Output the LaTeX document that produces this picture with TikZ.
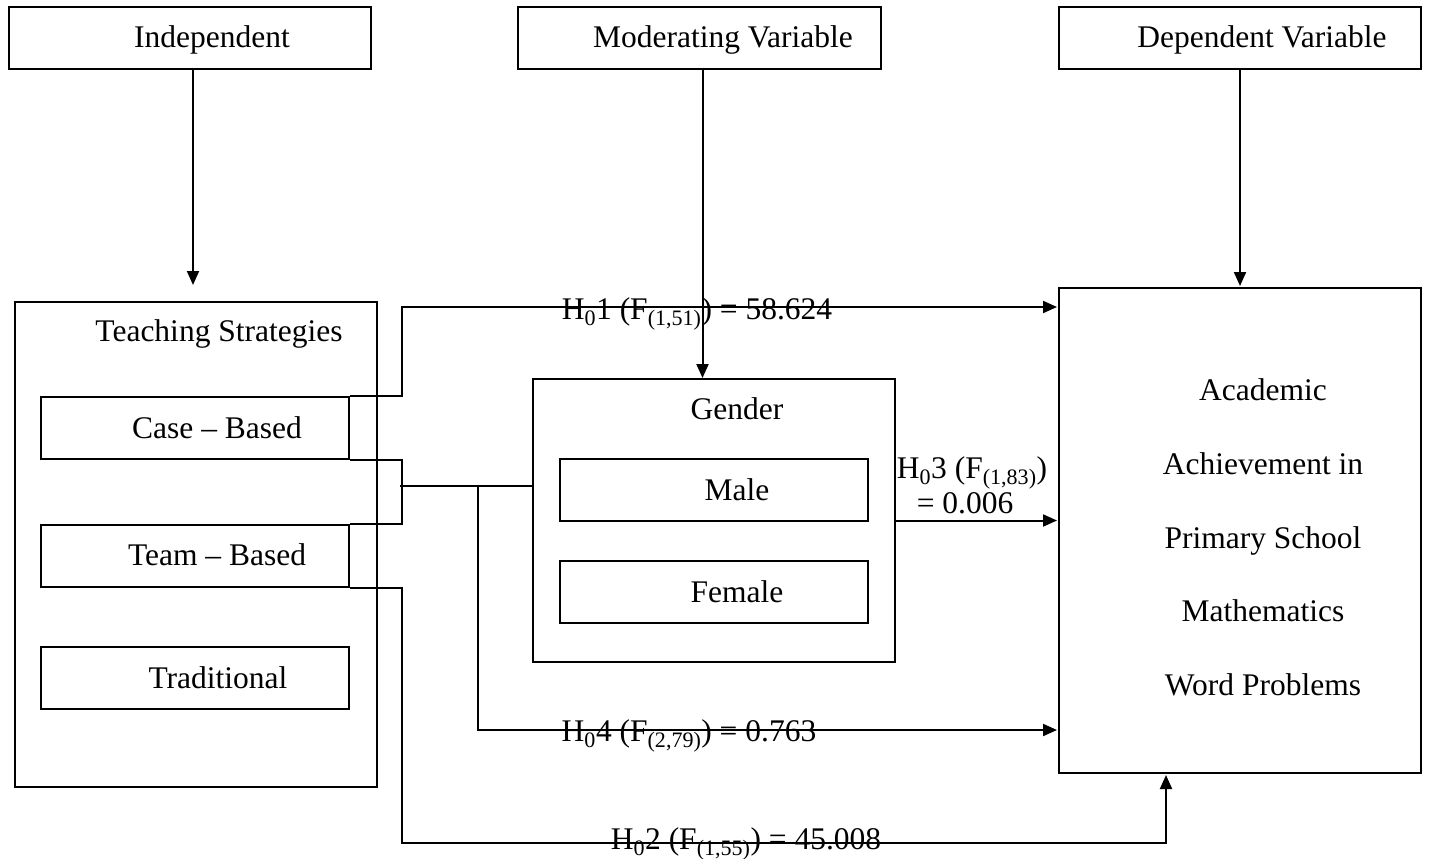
\documentclass[tikz,border=0pt]{standalone}
\usepackage{fontspec}
\setmainfont{Liberation Serif}
\usetikzlibrary{arrows.meta,calc}
\begin{document}
\begin{tikzpicture}[x=1pt,y=-1pt,
  box/.style={draw,line width=2pt,inner sep=0pt,anchor=north west},
  txt/.style={inner sep=0pt,anchor=base,font=\fontsize{31.5}{37}\selectfont},
  lab/.style={inner sep=0pt,anchor=base,font=\fontsize{31.5}{37}\selectfont},
  ln/.style={line width=2pt},
  arr/.style={line width=2pt,-{Triangle[length=14pt,width=12pt]}}]
\useasboundingbox (0,0) rectangle (1429,859);
% top boxes
\node[box,minimum width=362pt,minimum height=62pt] (ind) at (8,6) {};
\node[txt] (indt) at (212,48) {Independent};
\node[box,minimum width=363pt,minimum height=62pt] (mod) at (517,6) {};
\node[txt] (modt) at (723,48) {Moderating Variable};
\node[box,minimum width=362pt,minimum height=62pt] (dep) at (1058,6) {};
\node[txt] (dept) at (1262,48) {Dependent Variable};
% teaching strategies
\node[box,minimum width=362pt,minimum height=485pt] (ts) at (14,301) {};
\node[txt] (tst) at (219,341) {Teaching Strategies};
\node[box,minimum width=308pt,minimum height=62pt] (cb) at (40,396) {};
\node[txt] (cbt) at (217,438) {Case -- Based};
\node[box,minimum width=308pt,minimum height=62pt] (tb) at (40,524) {};
\node[txt] (tbt) at (217,565) {Team -- Based};
\node[box,minimum width=308pt,minimum height=62pt] (tr) at (40,646) {};
\node[txt] (trt) at (218,688) {Traditional};
% gender
\node[box,minimum width=362pt,minimum height=283pt] (gen) at (532,378) {};
\node[txt] (gent) at (737,419) {Gender};
\node[box,minimum width=308pt,minimum height=62pt] (ml) at (559,458) {};
\node[txt] (mlt) at (737,500) {Male};
\node[box,minimum width=308pt,minimum height=62pt] (fm) at (559,560) {};
\node[txt] (fmt) at (737,602) {Female};
% academic achievement
\node[box,minimum width=362pt,minimum height=485pt] (ach) at (1058,287) {};
\node[txt] (a1) at (1263,400) {Academic};
\node[txt] (a2) at (1263,474) {Achievement in};
\node[txt] (a3) at (1263,548) {Primary School};
\node[txt] (a4) at (1263,621) {Mathematics};
\node[txt] (a5) at (1263,695) {Word Problems};
% vertical arrows from top boxes
\draw[arr,shorten >=16pt] ([xshift=3pt]ind.south) -- ([xshift=3pt]ind.south |- ts.north);
\draw[arr] ([xshift=3pt]mod.south) -- ([xshift=3pt]mod.south |- gen.north);
\draw[arr,shorten >=1pt] (dep.south) -- (dep.south |- ach.north);
% H01
\draw[arr] (cb.north east) -- ++(52,0) |- ($(ach.north west)+(-1,20)$);
\node[lab] (h1) at (697,319) {H\textsubscript{0}1 (F\textsubscript{(1,51)}) = 58.624};
% bracket case/team -> gender
\draw[ln] (cb.south east) -- ++(52,0) |- (tb.north east);
\coordinate (jn) at (400,486);
\coordinate (j4) at (478,486);
\draw[ln] (jn) -- (jn -| gen.west);
% H04
\draw[arr] (j4) |- ($(ach.south west)+(-1,-44)$);
\node[lab] (h4) at (689,741) {H\textsubscript{0}4 (F\textsubscript{(2,79)}) = 0.763};
% H03
\draw[arr] (gen.east) -- ($(gen.east -| ach.west)+(-1,0)$);
\node[lab] (h3a) at (972,478) {H\textsubscript{0}3 (F\textsubscript{(1,83)})};
\node[lab] (h3b) at (965,513) {= 0.006};
% H02
\draw[arr] (tb.south east) -- ++(52,0) -- ++(0,255) -| ($(ach.south west)+(108,1)$);
\node[lab] (h2) at (746,849) {H\textsubscript{0}2 (F\textsubscript{(1,55)}) = 45.008};
\end{tikzpicture}
\end{document}
